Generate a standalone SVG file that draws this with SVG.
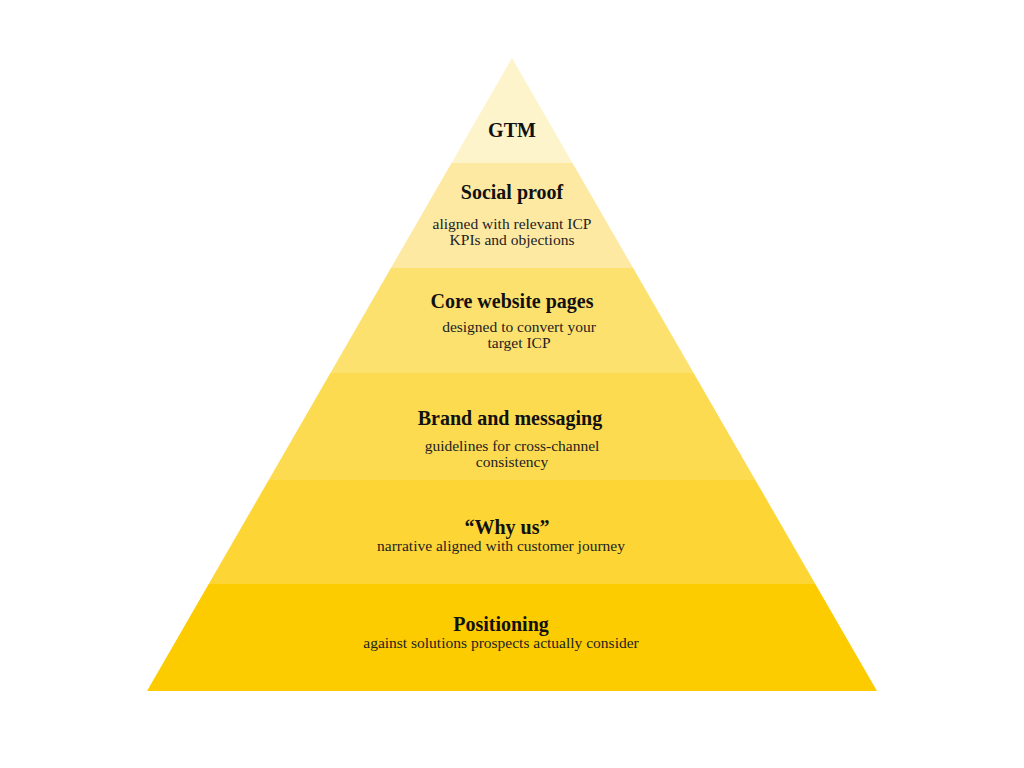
<svg xmlns="http://www.w3.org/2000/svg" width="1024" height="768" viewBox="0 0 1024 768">
<style>
.t{font-family:"Liberation Serif","DejaVu Serif",serif;font-weight:bold;font-size:20px;fill:#111;text-anchor:middle}
.s{font-family:"Liberation Serif","DejaVu Serif",serif;font-size:15.5px;fill:#222;text-anchor:middle}
</style>
<rect width="1024" height="768" fill="#fff"/>
<g id="gtm"><polygon points="512,58 572.5,163 451.5,163" fill="#FEF4CB"/><text class="t" x="512" y="137">GTM</text></g>
<g id="social"><polygon points="451.5,163 572.5,163 633.1,268 390.9,268" fill="#FEE9A2"/><text class="t" x="512" y="199">Social proof</text><text class="s" x="512" y="229">aligned with relevant ICP</text><text class="s" x="512" y="245">KPIs and objections</text></g>
<g id="core"><polygon points="390.9,268 633.1,268 693.6,373 330.4,373" fill="#FDE16F"/><text class="t" x="512" y="308">Core website pages</text><text class="s" x="519" y="332">designed to convert your</text><text class="s" x="519" y="348">target ICP</text></g>
<g id="brand"><polygon points="330.4,373 693.6,373 755.3,480 268.7,480" fill="#FDDB50"/><text class="t" x="510" y="425">Brand and messaging</text><text class="s" x="512" y="451">guidelines for cross-channel</text><text class="s" x="512" y="467">consistency</text></g>
<g id="why"><polygon points="268.7,480 755.3,480 815.3,584 208.7,584" fill="#FDD535"/><text class="t" x="507" y="534">“Why us”</text><text class="s" x="501" y="551">narrative aligned with customer journey</text></g>
<g id="pos"><polygon points="208.7,584 815.3,584 877,691 147,691" fill="#FDCC00"/><text class="t" x="501" y="631">Positioning</text><text class="s" x="501" y="648">against solutions prospects actually consider</text></g>
<g id="connectors"/>
</svg>
